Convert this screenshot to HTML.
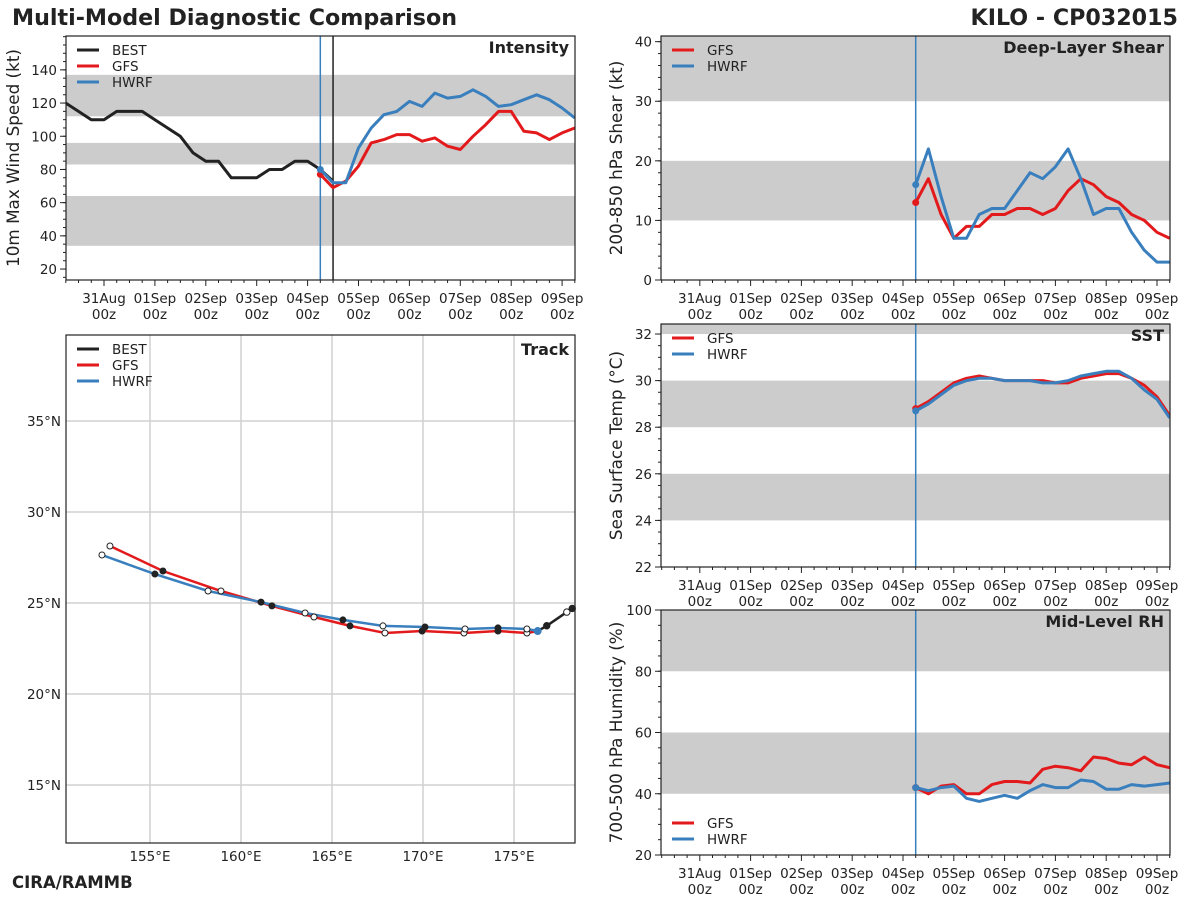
<!DOCTYPE html>
<html><head><meta charset="utf-8"><style>
html,body{margin:0;padding:0;background:#fff;}
svg{display:block;font-family:"DejaVu Sans","Liberation Sans",sans-serif;}
</style></head><body>
<svg id="root" width="1200" height="900" viewBox="0 0 1200 900" xmlns="http://www.w3.org/2000/svg">
<text x="12" y="25" font-size="22.2" font-weight="bold" fill="#222">Multi-Model Diagnostic Comparison</text>
<text x="1178" y="25" font-size="22.2" font-weight="bold" fill="#222" text-anchor="end">KILO - CP032015</text>
<text x="12" y="888" font-size="16.5" font-weight="bold" fill="#222">CIRA/RAMMB</text>
</svg>
<script>
// ---- data (6-hourly; hours relative to 31Aug 00z) ----
const dayLabels = ["31Aug","01Sep","02Sep","03Sep","04Sep","05Sep","06Sep","07Sep","08Sep","09Sep"];
const bestStart = -18;
const bestIntensity = [120,115,110,110,115,115,115,110,105,100,90,85,85,75,75,75,80,80,85,85,80,73];
const fcstStart = 102;
const gfsIntensity = [77,69,73,82,96,98,101,101,97,99,94,92,100,107,115,115,103,102,98,102,105];
const hwrfIntensity = [80,72,72,93,105,113,115,121,118,126,123,124,128,124,118,119,122,125,122,117,111];
const gfsShear = [13,17,11,7,9,9,11,11,12,12,11,12,15,17,16,14,13,11,10,8,7];
const hwrfShear = [16,22,14,7,7,11,12,12,15,18,17,19,22,17,11,12,12,8,5,3,3];
const gfsSST = [28.8,29.1,29.5,29.9,30.1,30.2,30.1,30,30,30,30,29.9,29.9,30.1,30.2,30.3,30.3,30.1,29.8,29.3,28.5];
const hwrfSST = [28.7,29,29.4,29.8,30,30.1,30.1,30,30,30,29.9,29.9,30,30.2,30.3,30.4,30.4,30.1,29.6,29.2,28.4];
const gfsRH = [42,40,42.5,43,40,40,43,44,44,43.5,48,49,48.5,47.5,52,51.5,50,49.5,52,49.5,48.5];
const hwrfRH = [42,41,42,42.5,38.5,37.5,38.5,39.5,38.5,41,43,42,42,44.5,44,41.5,41.5,43,42.5,43,43.5];
const bestTrackLon = [178.2,177.9,176.8,176.3];
const bestTrackLat = [24.7,24.5,23.75,23.46];
const gfsTrackLon = [176.32,175.71,174.12,172.25,169.95,167.91,165.99,164.01,161.70,158.90,155.71,152.80];
const gfsTrackLat = [23.46,23.35,23.46,23.35,23.46,23.35,23.74,24.23,24.84,25.66,26.76,28.13];
const hwrfTrackLon = [176.32,175.71,174.12,172.31,170.11,167.80,165.60,163.52,161.10,158.19,155.27,152.36];
const hwrfTrackLat = [23.46,23.57,23.63,23.57,23.68,23.74,24.07,24.45,25.05,25.66,26.59,27.64];
const initHour = 102, bestEndHour = 108;

const NS="http://www.w3.org/2000/svg";
const root=document.getElementById('root');
const RED="#e31a1c", BLUE="#3a7fbd", BLACK="#222";
function mk(tag,attrs,parent){const e=document.createElementNS(NS,tag);for(const k in attrs)e.setAttribute(k,attrs[k]);(parent||root).appendChild(e);return e;}

function timePanel(cfg){
  const g=mk('g',{});
  
  
  const {x0,x1,y0,y1,vmin,vmax}=cfg;
  const dayPx=cfg.dayPx, x31=cfg.x31;
  const X=h=>x31+h/24*dayPx;
  const Y=v=>y1-(v-vmin)/(vmax-vmin)*(y1-y0);
  const clip='c'+cfg.name;
  const cp=mk('clipPath',{id:clip},g);mk('rect',{x:x0,y:y0,width:x1-x0,height:y1-y0},cp);
  cfg.bands.forEach(b=>{
    const r=mk('rect',{x:x0,y:Y(b[1]),width:x1-x0,height:Y(b[0])-Y(b[1]),fill:"#cccccc",'clip-path':`url(#${clip})`},g);
    
    
  });
  for(let v=cfg.minorStart;v<=vmax;v+=cfg.minor){const y=Y(v);if(y<y0-0.5||y>y1+0.5)continue;mk('line',{x1:x0-3,x2:x0,y1:y,y2:y,stroke:"#222"},g);}
  cfg.yticks.forEach(v=>{const y=Y(v);mk('line',{x1:x0-6,x2:x0,y1:y,y2:y,stroke:"#222"},g);
    const t=mk('text',{x:x0-9,y:y+5,'font-size':13.5,'text-anchor':'end',fill:'#222'},g);t.textContent=v;
    
    });
  for(let h=-18;h<=222;h+=6){const x=X(h);if(x<x0-0.5||x>x1+0.5)continue;mk('line',{x1:x,x2:x,y1:y1,y2:y1+(h%24===0?6:3),stroke:"#222"},g);}
  dayLabels.forEach((d,i)=>{const x=X(i*24);
    const t=mk('text',{x:x,y:y1+23,'font-size':13.5,'text-anchor':'middle',fill:'#222'},g);t.textContent=d;
    
    
    const t2=mk('text',{x:x,y:y1+39,'font-size':13.5,'text-anchor':'middle',fill:'#222'},g);t2.textContent="00z";});
  const yt=mk('text',{x:0,y:0,'font-size':16.8,'text-anchor':'middle',fill:'#222',transform:`translate(${cfg.ytx},${(y0+y1)/2}) rotate(-90)`},g);yt.textContent=cfg.ytitle;
  
  
  mk('line',{x1:X(initHour),x2:X(initHour),y1:y0,y2:y1,stroke:BLUE,'stroke-width':1.5},g);
  if(cfg.bestLine) mk('line',{x1:X(bestEndHour),x2:X(bestEndHour),y1:y0,y2:y1,stroke:BLACK,'stroke-width':1.5},g);
  cfg.series.forEach(s=>{
    const pts=s.vals.map((v,i)=>X(s.start+i*6).toFixed(1)+','+Y(v).toFixed(1)).join(' ');
    const p=mk('polyline',{points:pts,fill:'none',stroke:s.color,'stroke-width':3,'stroke-linejoin':'round','clip-path':`url(#${clip})`},g);
    
    
    if(s.dot){const c=mk('circle',{cx:X(s.start),cy:Y(s.vals[0]),r:3.5,fill:s.color},g);
      
      }
  });
  mk('rect',{x:x0,y:y0,width:x1-x0,height:y1-y0,fill:'none',stroke:'#222','stroke-width':1.2},g);
  const tt=mk('text',{x:x1-6,y:y0+17,'font-size':16,'font-weight':'bold','text-anchor':'end',fill:'#222'},g);tt.textContent=cfg.title;
  
  
  const ly=cfg.legendY;
  cfg.series.forEach((s,i)=>{const y=ly+i*16;
    mk('line',{x1:x0+11,x2:x0+33,y1:y,y2:y,stroke:s.color,'stroke-width':3},g);
    const t=mk('text',{x:x0+46,y:y+5,'font-size':13.5,fill:'#222'},g);t.textContent=s.label;
    
    });
}

timePanel({name:'intensity-panel',x0:66,x1:575,y0:36,y1:280,vmin:13.4,vmax:160.4,x31:104,dayPx:50.9,
  bands:[[112,137],[83,96],[34,64]],yticks:[20,40,60,80,100,120,140],minor:5,minorStart:15,
  ytitle:"10m Max Wind Speed (kt)",ytx:19,title:"Intensity",bestLine:true,legendY:50,
  series:[{label:"BEST",color:BLACK,vals:bestIntensity,start:bestStart},
          {label:"GFS",color:RED,vals:gfsIntensity,start:fcstStart,dot:true},
          {label:"HWRF",color:BLUE,vals:hwrfIntensity,start:fcstStart,dot:true}]});
timePanel({name:'shear-panel',x0:661,x1:1170,y0:36,y1:280,vmin:0,vmax:40.95,x31:699.8,dayPx:50.8,
  bands:[[30,45],[10,20]],yticks:[0,10,20,30,40],minor:2,minorStart:0,
  ytitle:"200-850 hPa Shear (kt)",ytx:622,title:"Deep-Layer Shear",legendY:50,
  series:[{label:"GFS",color:RED,vals:gfsShear,start:fcstStart,dot:true},
          {label:"HWRF",color:BLUE,vals:hwrfShear,start:fcstStart,dot:true}]});
timePanel({name:'sst-panel',x0:661,x1:1170,y0:324,y1:567,vmin:22,vmax:32.43,x31:699.8,dayPx:50.8,
  bands:[[32,34],[28,30],[24,26]],yticks:[22,24,26,28,30,32],minor:0.5,minorStart:22,
  ytitle:"Sea Surface Temp (°C)",ytx:622,title:"SST",legendY:338,
  series:[{label:"GFS",color:RED,vals:gfsSST,start:fcstStart,dot:true},
          {label:"HWRF",color:BLUE,vals:hwrfSST,start:fcstStart,dot:true}]});
timePanel({name:'rh-panel',x0:661,x1:1170,y0:610,y1:855,vmin:20,vmax:100,x31:699.8,dayPx:50.8,
  bands:[[80,100],[40,60]],yticks:[20,40,60,80,100],minor:5,minorStart:20,
  ytitle:"700-500 hPa Humidity (%)",ytx:622,title:"Mid-Level RH",legendY:823,
  series:[{label:"GFS",color:RED,vals:gfsRH,start:fcstStart,dot:true},
          {label:"HWRF",color:BLUE,vals:hwrfRH,start:fcstStart,dot:true}]});

(function(){
  const g=mk('g',{});
  
  
  const x0=66,x1=575,y0=335,y1=843;
  const LX=lon=>150+(lon-155)*18.2;
  const LY=lat=>603-(lat-25)*18.2;
  const clip='ctrack';const cp=mk('clipPath',{id:clip},g);mk('rect',{x:x0,y:y0,width:x1-x0,height:y1-y0},cp);
  [155,160,165,170,175].forEach(l=>{const x=LX(l);mk('line',{x1:x,x2:x,y1:y0,y2:y1,stroke:'#d0d0d0','stroke-width':1.5},g);
    const t=mk('text',{x:x,y:y1+18,'font-size':13.5,'text-anchor':'middle',fill:'#222'},g);t.textContent=l+"°E";
    
    });
  [15,20,25,30,35].forEach(l=>{const y=LY(l);mk('line',{x1:x0,x2:x1,y1:y,y2:y,stroke:'#d0d0d0','stroke-width':1.5},g);
    const t=mk('text',{x:x0-5,y:y+5,'font-size':13.5,'text-anchor':'end',fill:'#222'},g);t.textContent=l+"°N";
    
    });
  const tracks=[{label:"GFS",color:RED,lon:gfsTrackLon,lat:gfsTrackLat},{label:"HWRF",color:BLUE,lon:hwrfTrackLon,lat:hwrfTrackLat}];
  tracks.forEach(s=>{
    const pts=s.lon.map((l,i)=>LX(l).toFixed(1)+','+LY(s.lat[i]).toFixed(1)).join(' ');
    const p=mk('polyline',{points:pts,fill:'none',stroke:s.color,'stroke-width':2.5,'clip-path':`url(#${clip})`},g);
    
    
  });
  const bp=bestTrackLon.map((l,i)=>LX(l).toFixed(1)+','+LY(bestTrackLat[i]).toFixed(1)).join(' ');
  const bl=mk('polyline',{points:bp,fill:'none',stroke:BLACK,'stroke-width':2.5,'clip-path':`url(#${clip})`},g);
  
  
  tracks.forEach(s=>{
    s.lon.forEach((l,i)=>{if(i===0)return;
      const c=mk('circle',{cx:LX(l),cy:LY(s.lat[i]),r:3,fill:i%2===0?'#222':'#fff',stroke:'#222','stroke-width':1},g);
      
      });
  });
  bestTrackLon.forEach((l,i)=>{if(i===bestTrackLon.length-1)return;
    const c=mk('circle',{cx:LX(l),cy:LY(bestTrackLat[i]),r:3.2,fill:i===1?'#fff':'#222',stroke:'#222','stroke-width':1},g);
    
    });
  const last=bestTrackLon.length-1;
  mk('circle',{cx:LX(bestTrackLon[last]),cy:LY(bestTrackLat[last]),r:4,fill:BLUE},g);
  mk('rect',{x:x0,y:y0,width:x1-x0,height:y1-y0,fill:'none',stroke:'#222','stroke-width':1.2},g);
  const tt=mk('text',{x:x1-6,y:y0+20,'font-size':16,'font-weight':'bold','text-anchor':'end',fill:'#222'},g);tt.textContent="Track";
  
  
  [{label:"BEST",color:BLACK},{label:"GFS",color:RED},{label:"HWRF",color:BLUE}].forEach((s,i)=>{const y=349+i*16;
    mk('line',{x1:x0+11,x2:x0+33,y1:y,y2:y,stroke:s.color,'stroke-width':3},g);
    const t=mk('text',{x:x0+46,y:y+5,'font-size':13.5,fill:'#222'},g);t.textContent=s.label;
    
    });
})();
</script>
</body></html>
